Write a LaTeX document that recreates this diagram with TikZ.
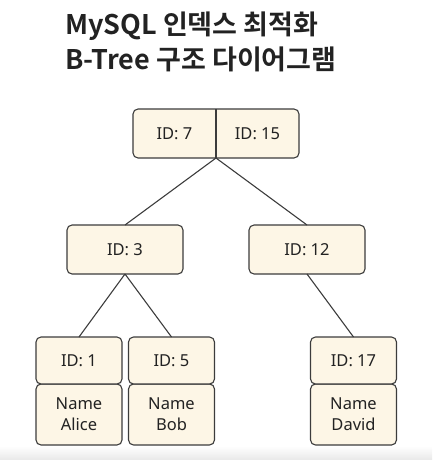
\documentclass[tikz,border=0pt]{standalone}
\usepackage{fontspec}
\setmainfont{Noto Sans}
\newfontfamily\titlefont{Noto Sans CJK KR Bold}
\usetikzlibrary{positioning}
\definecolor{cream}{HTML}{FDF6E6}
\definecolor{edge}{HTML}{3C3C3C}
\definecolor{ink}{HTML}{222222}

\begin{document}
\begin{tikzpicture}[x=1pt, y=-1pt,
    box/.style={draw=edge, fill=cream, line width=1.1pt, rounded corners=5pt, outer sep=0pt,
      inner sep=0pt, text=ink, align=center, font=\fontsize{16.5}{21}\selectfont},
    keybox/.style={box, minimum width=116, minimum height=49},
    idbox/.style={box, minimum width=86, minimum height=47},
    namebox/.style={box, minimum width=86, minimum height=61},
    keytext/.style={text=ink, inner sep=0pt, font=\fontsize{16.5}{21}\selectfont},
    titletext/.style={anchor=base west, inner sep=0pt, text=ink, font=\titlefont\fontsize{27}{35}\selectfont},
    link/.style={draw=edge, line width=1.1pt}]
    \useasboundingbox (0,0) rectangle (432,460);
    \shade[top color=white, bottom color=black!9] (0,446) rectangle (432,460);
    \node (title) [titletext] at (65,35) {MySQL 인덱스 최적화};
    \node (subtitle) [titletext] at (65,70) {B-Tree 구조 다이어그램};
    % root: two keys in one box
    \node (root) [box, minimum width=166, minimum height=49] at (216,133.5) {};
    \draw[link] (root.north) -- (root.south);
    \node (k7) [keytext] at ([xshift=-41.5]root.center) {ID: 7};
    \node (k15) [keytext] at ([xshift=41.5]root.center) {ID: 15};
    % inner nodes
    \node (m3) [keybox] at (125,249.5) {ID: 3};
    \node (m12) [keybox] at (307,249.5) {ID: 12};
    % leaves
    \node (alice) [namebox] at (79,414.5) {Name\\Alice};
    \node (id1) [idbox, above=0pt of alice] {ID: 1};
    \node (bob) [namebox] at (171.5,414.5) {Name\\Bob};
    \node (id5) [idbox, above=0pt of bob] {ID: 5};
    \node (david) [namebox] at (353.5,414.5) {Name\\David};
    \node (id17) [idbox, above=0pt of david] {ID: 17};
    \draw[link] (root.south) -- (m3.north);
    \draw[link] (root.south) -- (m12.north);
    \draw[link] (m3.south) -- (id1.north);
    \draw[link] (m3.south) -- (id5.north);
    \draw[link] (m12.south) -- (id17.north);
\end{tikzpicture}
\end{document}
